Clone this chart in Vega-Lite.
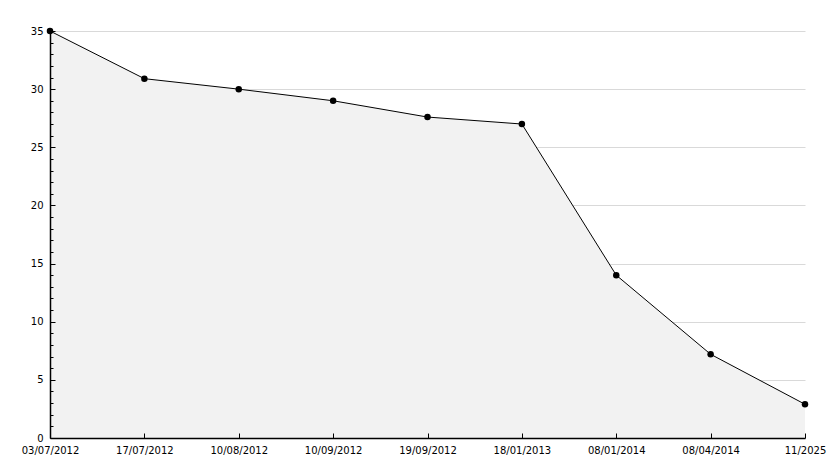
{
  "$schema": "https://vega.github.io/schema/vega-lite/v6.json",
  "autosize": "none",
  "width": 755,
  "height": 407,
  "padding": {"left": 50, "top": 31, "right": 29, "bottom": 30},
  "background": "white",
  "config": {
    "view": {"stroke": null},
    "font": "DejaVu Sans",
    "axis": {"labelFont": "DejaVu Sans", "labelFontSize": 10, "labelColor": "black", "domainColor": "black", "tickColor": "black", "tickWidth": 1}
  },
  "data": {
    "values": [
      {"order": 1, "date": "03/07/2012", "value": 35},
      {"order": 2, "date": "17/07/2012", "value": 30.9},
      {"order": 3, "date": "10/08/2012", "value": 30},
      {"order": 4, "date": "10/09/2012", "value": 29},
      {"order": 5, "date": "19/09/2012", "value": 27.6},
      {"order": 6, "date": "18/01/2013", "value": 27},
      {"order": 7, "date": "08/01/2014", "value": 14},
      {"order": 8, "date": "08/04/2014", "value": 7.2},
      {"order": 9, "date": "11/2025", "value": 2.9}
    ]
  },
  "encoding": {
    "x": {
      "field": "date",
      "type": "ordinal",
      "sort": {"field": "order"},
      "scale": {"type": "point", "padding": 0},
      "axis": {"title": null, "labelAngle": 0, "tickSize": -5, "labelPadding": 12, "domainWidth": 1.5, "grid": false, "zindex": 1}
    }
  },
  "layer": [
    {
      "mark": {"type": "area", "color": "#f2f2f2", "opacity": 1},
      "encoding": {
        "y": {
          "field": "value",
          "type": "quantitative",
          "scale": {"domain": [0, 35], "nice": false},
          "axis": {
            "title": null,
            "orient": "left",
            "zindex": 0,
            "values": [5, 10, 15, 20, 25, 30, 35],
            "grid": true,
            "gridColor": "#d9d9d9",
            "labels": false,
            "ticks": false,
            "domain": false
          }
        }
      }
    },
    {
      "mark": {"type": "line", "color": "black", "strokeWidth": 1},
      "encoding": {
        "y": {
          "field": "value",
          "type": "quantitative",
          "axis": {
            "title": null,
            "orient": "left",
            "zindex": 1,
            "grid": false,
            "values": [0,1,2,3,4,5,6,7,8,9,10,11,12,13,14,15,16,17,18,19,20,21,22,23,24,25,26,27,28,29,30,31,32,33,34,35],
            "labelExpr": "datum.value % 5 === 0 ? datum.label : ''",
            "tickSize": {"condition": {"test": "datum.value % 5 === 0", "value": -5}, "value": -3},
            "labelPadding": 12,
            "domainWidth": 1.5
          }
        }
      }
    },
    {
      "mark": {"type": "point", "shape": "circle", "filled": true, "color": "black", "size": 42, "opacity": 1},
      "encoding": {
        "y": {"field": "value", "type": "quantitative", "axis": null}
      }
    }
  ],
  "resolve": {"axis": {"y": "independent"}}
}
